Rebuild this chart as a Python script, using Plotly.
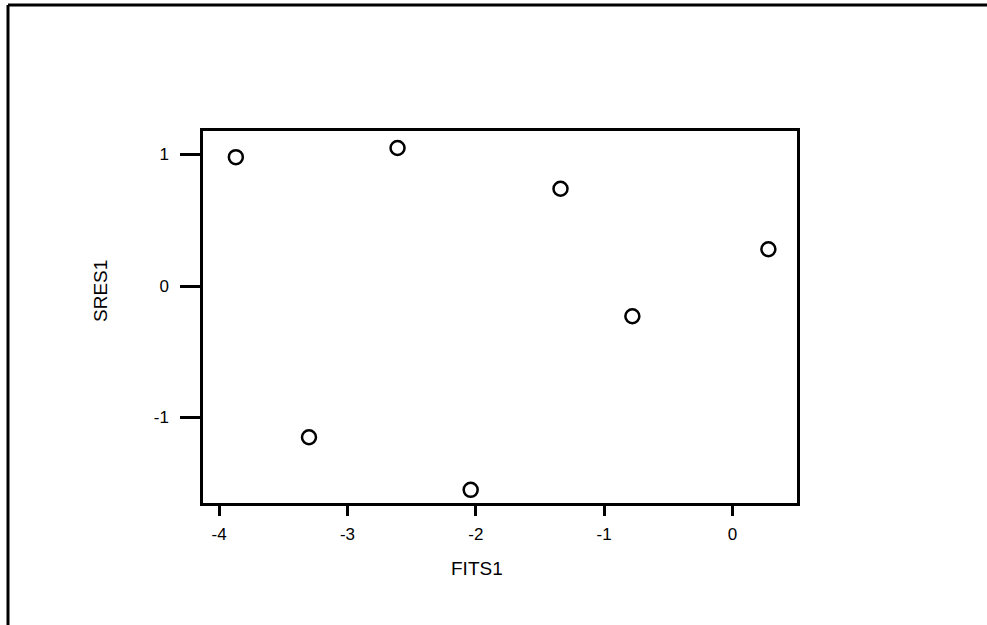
import plotly.graph_objects as go

# Fitted values vs standardized residuals
fits1 = [-3.87, -2.61, -1.34, 0.28, -0.78, -3.30, -2.04]
sres1 = [0.98, 1.05, 0.74, 0.28, -0.23, -1.15, -1.55]

x_ticks = [-4, -3, -2, -1, 0]
y_ticks = [-1, 0, 1]

W, H = 987, 625
L, R, T, B = 203, 797, 131, 503  # plot area in pixels

def px_to_paper_x(px):
    return (px - L) / (R - L)

def px_to_paper_y(py):
    return (B - py) / (B - T)

font_main = "Arial, Liberation Sans, sans-serif"

fig = go.Figure()
fig.add_trace(go.Scatter(
    x=fits1, y=sres1, mode="markers",
    marker=dict(symbol="circle-open", size=14, color="black",
                line=dict(width=2.5, color="black")),
    showlegend=False,
))

axis_common = dict(
    showgrid=False, zeroline=False, showline=True, mirror=True,
    linecolor="black", linewidth=2.5, ticks="outside", tickcolor="black",
    tickwidth=2.5, tickfont=dict(family=font_main, size=17, color="black"),
)

fig.update_layout(
    width=W, height=H,
    margin=dict(l=L, r=W - R, t=T, b=H - B, autoexpand=False),
    paper_bgcolor="white", plot_bgcolor="white",
    xaxis=dict(range=[-4.126, 0.503], tickvals=x_ticks,
               ticktext=[str(v) for v in x_ticks], ticklen=10,
               ticklabelstandoff=4, **axis_common),
    yaxis=dict(range=[-1.650, 1.179], tickvals=y_ticks,
               ticktext=[str(v) for v in y_ticks], ticklen=20,
               ticklabelstandoff=8, **axis_common),
)

# Axis titles
fig.add_annotation(text="FITS1", xref="paper", yref="paper",
                   x=px_to_paper_x(477), y=px_to_paper_y(568),
                   showarrow=False, xanchor="center", yanchor="middle",
                   font=dict(family=font_main, size=19, color="black"))
fig.add_annotation(text="SRES1", xref="paper", yref="paper",
                   x=px_to_paper_x(100), y=px_to_paper_y(291),
                   showarrow=False, textangle=-90, xanchor="center", yanchor="middle",
                   font=dict(family=font_main, size=19, color="black"))

# Outer frame: left and top edges
fig.add_shape(type="line", xref="paper", yref="paper",
              x0=px_to_paper_x(8), y0=px_to_paper_y(5),
              x1=px_to_paper_x(8), y1=px_to_paper_y(630),
              line=dict(color="black", width=3))
fig.add_shape(type="line", xref="paper", yref="paper",
              x0=px_to_paper_x(8), y0=px_to_paper_y(5),
              x1=px_to_paper_x(990), y1=px_to_paper_y(5),
              line=dict(color="black", width=3))

fig.write_html("out.html")
